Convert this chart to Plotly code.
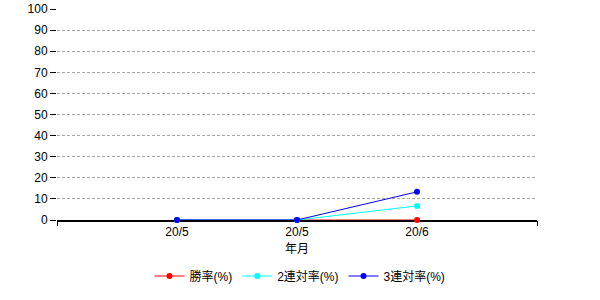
import plotly.graph_objects as go

categories = ["20/5", "20/5", "20/6"]
cat_pos = [1, 2, 3]
win_rate = [0, 0, 0]
rentai2 = [0, 0, 6.67]
rentai3 = [0, 0, 13.33]
series = [
    ("勝率(%)", win_rate, "#ff0000"),
    ("2連対率(%)", rentai2, "#00ffff"),
    ("3連対率(%)", rentai3, "#0000ff"),
]
y_ticks = list(range(0, 101, 10))

font_family = "Liberation Sans, Noto Sans CJK JP, sans-serif"

fig = go.Figure()
for name, vals, color in series:
    fig.add_trace(go.Scatter(
        x=cat_pos, y=vals, name=name, mode="lines+markers",
        line=dict(color=color, width=1),
        marker=dict(color=color, size=6),
        cliponaxis=False,
    ))

fig.update_layout(
    width=600, height=300,
    margin=dict(l=57, r=63, t=9, b=80, autoexpand=False),
    paper_bgcolor="white", plot_bgcolor="white",
    font=dict(family=font_family, size=12, color="black"),
    showlegend=True,
    legend=dict(orientation="h", x=0.5, xanchor="center", xref="container",
                y=0.08, yanchor="middle", yref="container",
                font=dict(size=12), itemwidth=30),
    xaxis=dict(
        range=[0, 4], tickvals=cat_pos, ticktext=categories,
        ticks="", showgrid=False, zeroline=False,
        showline=True, linecolor="black", linewidth=1.5, layer="below traces",
        title=dict(text="年月", font=dict(size=12), standoff=6),
        tickfont=dict(size=12),
    ),
    xaxis2=dict(
        overlaying="x", range=[0, 4], tickvals=[0, 4], showticklabels=False,
        ticks="outside", ticklen=5, tickcolor="black", tickwidth=1,
        showgrid=False, zeroline=False, side="bottom",
    ),
    yaxis=dict(
        range=[0, 100], tickvals=y_ticks, ticks="outside", ticklen=6,
        tickcolor="black", tickwidth=1,
        showgrid=True, gridcolor="#a9a9a9", griddash="3px,2px", gridwidth=1,
        zeroline=False, showline=False, tickfont=dict(size=12),
    ),
)
fig.add_trace(go.Scatter(x=[0], y=[None], xaxis="x2", showlegend=False, hoverinfo="skip"))

fig.write_html("out.html")
